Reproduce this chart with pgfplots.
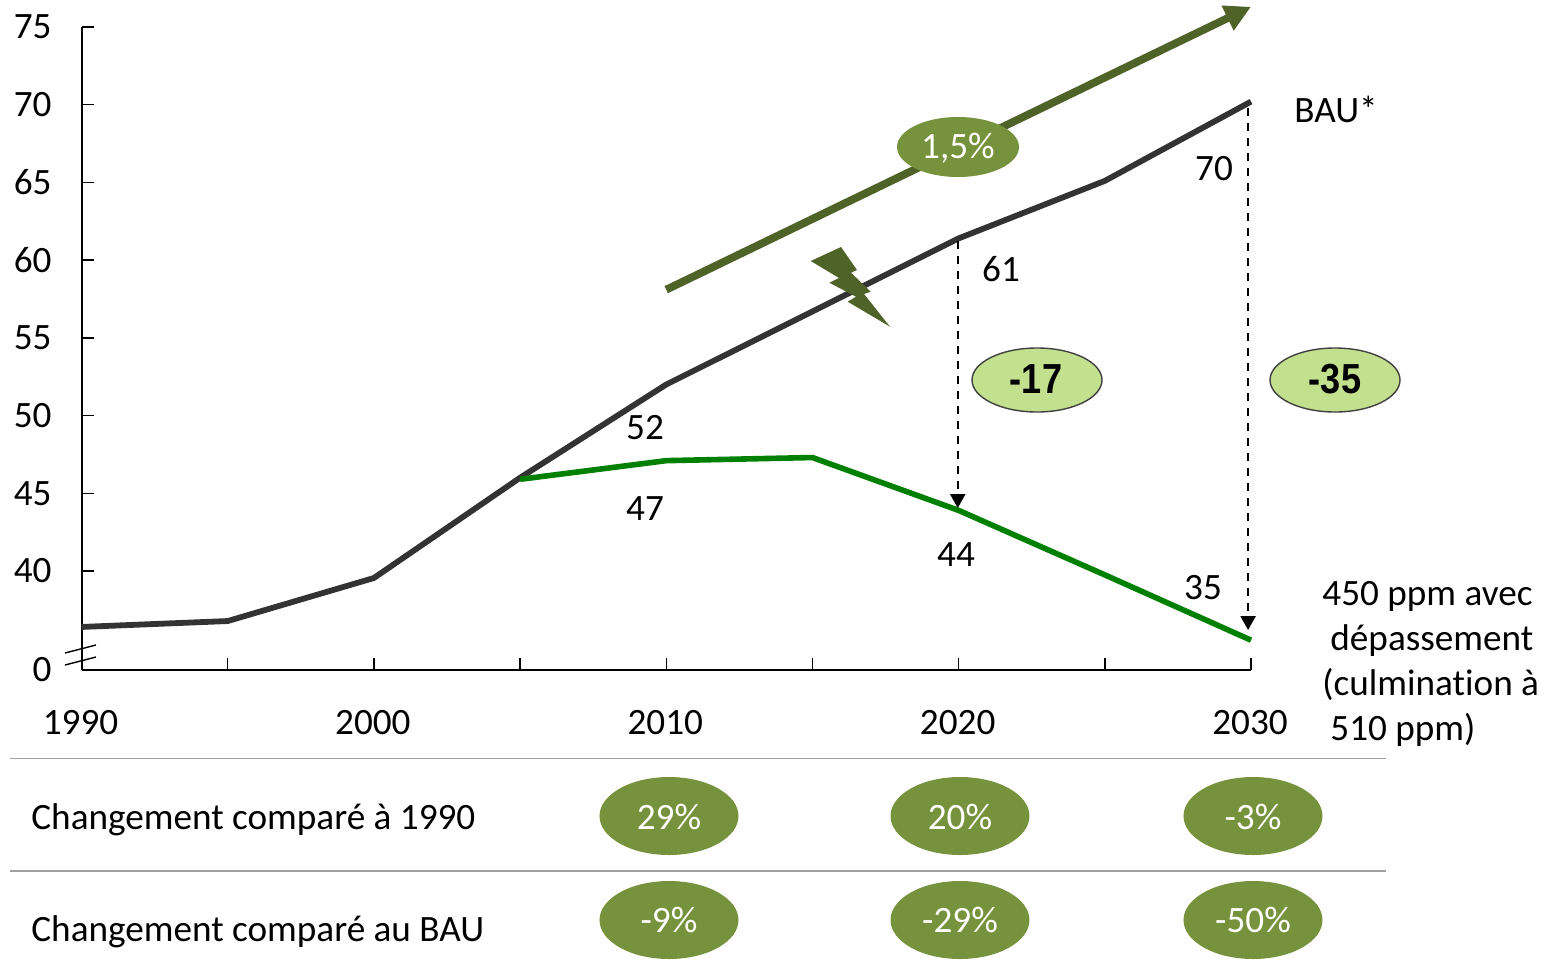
\documentclass[border=0pt]{standalone}
\usepackage{fontspec}
\setmainfont[Ligatures=NoCommon,Contextuals=NoAlternate]{Carlito}
\newfontfamily\arialb{Liberation Sans}
\usepackage{pgfplots}
\pgfplotsset{compat=1.18}
\usetikzlibrary{arrows.meta,shapes.geometric}
\definecolor{bau}{HTML}{333333}
\definecolor{scen}{HTML}{008000}
\definecolor{olive}{HTML}{4F6228}
\definecolor{pill}{HTML}{76923C}
\definecolor{lightpill}{HTML}{C3E08E}
\definecolor{rule}{HTML}{A0A0A0}
\newcommand{\fs}{\fontsize{18.6}{20}\selectfont}
\newcommand{\lab}[3]{\node[anchor=base west,inner sep=0pt,font=\fs] at (#1,#2) {#3};}
\newcommand{\cen}[3]{\node[anchor=base,inner sep=0pt,font=\fs] at (#1,#2) {#3};}
\begin{document}
\begin{tikzpicture}[x=0.5pt,y=-0.5pt]
\useasboundingbox (0,0) rectangle (1558,964);
\coordinate (axpos) at (81.5,670);
\begin{axis}[
  at={(axpos)},anchor=south west,
  scale only axis,width=584.75pt,height=321.5pt,
  xmin=1990,xmax=2030,ymin=33.63,ymax=75,
  axis x line=bottom,axis y line=left,
  axis line style={black,line width=1pt,-},
  clip=false,
  xtick={1990,1995,2000,2005,2010,2015,2020,2025,2030},
  xticklabels={1990,,2000,,2010,,2020,,2030},
  ytick={33.63,40,45,50,55,60,65,70,75},
  yticklabels={0,40,45,50,55,60,65,70,75},
  tick align=inside,major tick length=6pt,
  tick style={black,line width=0.7pt},
  /pgf/number format/assume math mode=true,
  tick label style={font=\fs,inner sep=0pt,black},
  xticklabel style={yshift=-20pt,xshift=-0.5pt},
  yticklabel style={xshift=-14.8pt},
]
\addplot[bau,line width=2.9pt,line join=round,forget plot] coordinates {
 (1990,36.4)(1995,36.78)(2000,39.55)(2005,46.0)(2010,52.0)(2015,56.7)(2020,61.4)(2025,65.1)(2030,70.2)};
\addplot[scen,line width=2.8pt,line join=round,forget plot] coordinates {
 (2005,45.9)(2010,47.1)(2015,47.3)(2020,43.9)(2025,39.75)(2030,35.55)};
\addplot[olive,line width=3.9pt,-{Triangle[length=13pt,width=13pt]},forget plot] coordinates {(2010,58.1)(2030,76.3)};
\addplot[black,line width=1.1pt,dash pattern=on 4pt off 3.5pt,-{Stealth[length=7pt,width=7.5pt,inset=0pt]},forget plot] coordinates {(2019.97,61.2)(2019.97,44.05)};
\addplot[black,line width=1.1pt,dash pattern=on 4pt off 3.5pt,-{Stealth[length=7pt,width=7.5pt,inset=0pt]},forget plot] coordinates {(2029.9,69.8)(2029.9,36.2)};
\end{axis}
% axis break
\draw[black,line width=0.7pt] (65,653)--(96,645);
\draw[black,line width=0.7pt] (65,665)--(96,657);
% lightning
\fill[olive] (810.7,261)--(841,247)--(857,270)--(851,272.7)--(870.7,291.7)--(864,294)--(890,326.7)--(847.7,301.7)--(856,296.7)--(829.3,282.7)--(839,278)--cycle;
% value labels
\cen{645}{439}{52}
\cen{645}{520}{47}
\cen{1001}{281}{61}
\cen{1214}{180}{70}
\cen{956}{566}{44}
\cen{1203}{599}{35}
\lab{1294}{122}{BAU*}
\lab{1322}{605}{450 ppm avec}
\lab{1330}{650}{dépassement}
\lab{1322}{695}{(culmination à}
\lab{1330}{740}{510 ppm)}
% 1,5 % ellipse
\fill[pill] (958,147) ellipse[x radius=61,y radius=30];
\node[white,inner sep=0pt,font=\fs] at (958,148) {1,5\%};
% light ellipses
\filldraw[fill=lightpill,draw=black!75,line width=0.7pt] (1037,380) ellipse[x radius=65,y radius=32];
\filldraw[fill=lightpill,draw=black!75,line width=0.7pt] (1335,380) ellipse[x radius=65,y radius=32];
\node[inner sep=0pt,xscale=0.86,font=\arialb\bfseries\fontsize{21}{22}\selectfont] at (1036,379) {-17};
\node[inner sep=0pt,xscale=0.86,font=\arialb\bfseries\fontsize{21}{22}\selectfont] at (1335,379) {-35};
% table
\draw[rule,line width=0.8pt] (10,758.5)--(1386,758.5);
\draw[rule,line width=0.8pt] (10,871)--(1386,871);
\lab{31}{829}{Changement comparé à 1990}
\lab{31}{941}{Changement comparé au BAU}
\foreach \x/\a/\b in {669/29\%/-9\%,960/20\%/-29\%,1253/-3\%/-50\%}{
  \fill[pill] (\x,816) ellipse[x radius=69.5,y radius=39];
  \fill[pill] (\x,920) ellipse[x radius=69.5,y radius=39];
  \node[white,inner sep=0pt,font=\fs] at (\x,817) {\a};
  \node[white,inner sep=0pt,font=\fs] at (\x,920) {\b};
}
\end{tikzpicture}
\end{document}
